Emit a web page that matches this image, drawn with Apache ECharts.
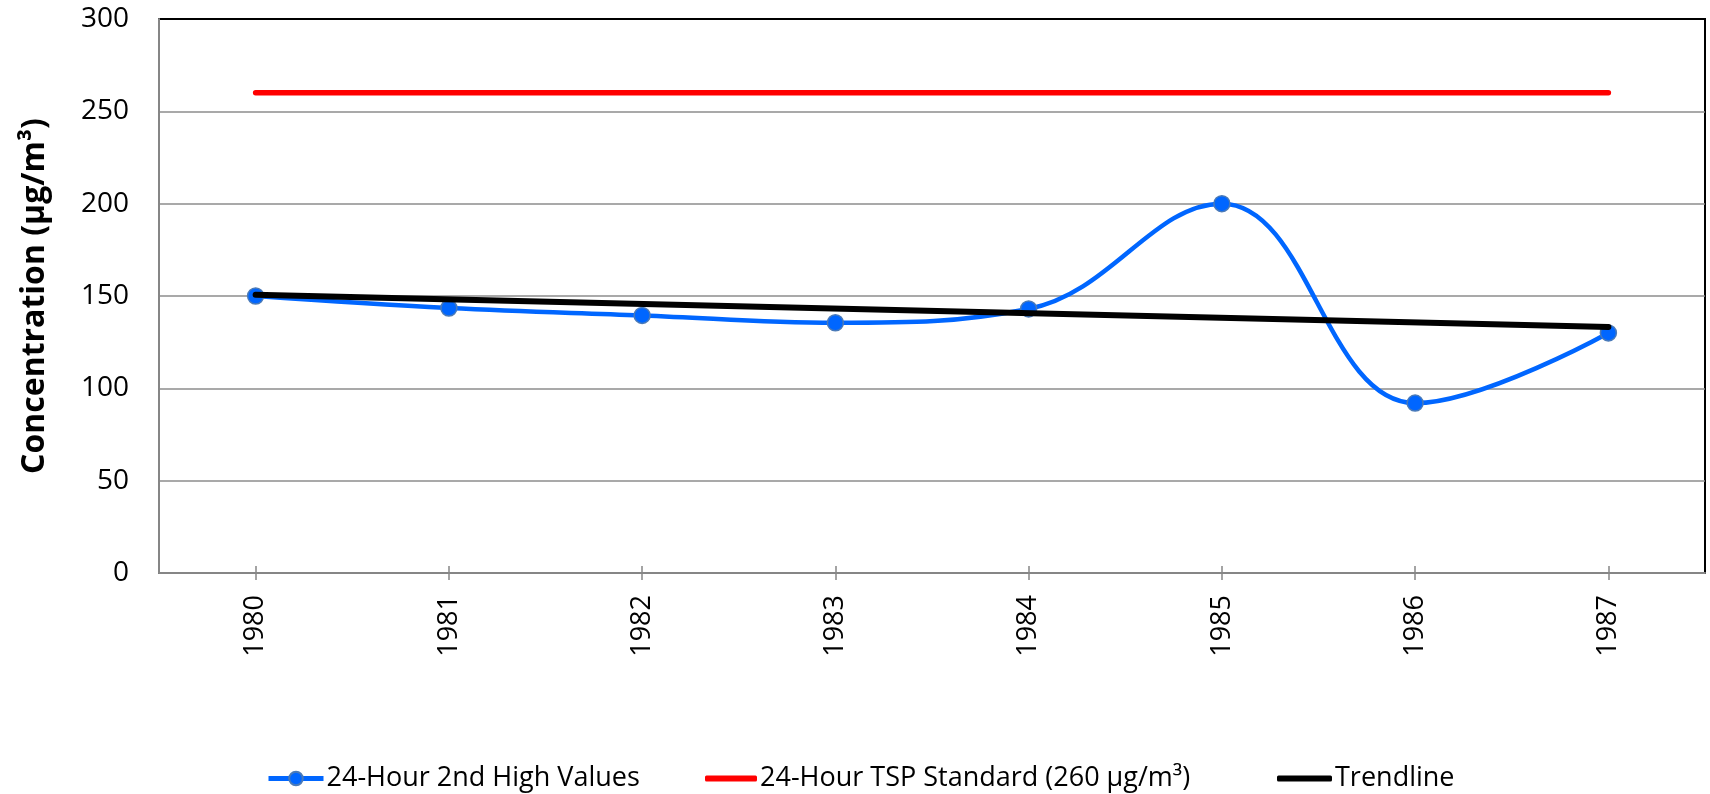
<!DOCTYPE html>
<html>
<head>
<meta charset="utf-8">
<script src="https://cdn.jsdelivr.net/npm/echarts@6/dist/echarts.min.js"></script>
<style>html,body{margin:0;padding:0;background:#fff;}#c{width:1710px;height:794px;}</style>
</head>
<body>
<div id="c"></div>
<script>
const years = ['1980','1981','1982','1983','1984','1985','1986','1987'];
const highValues = [150, 143.5, 139.5, 135.5, 143, 200, 92, 130];
const standardValue = 260;
const trendEnds = [150.7, 133.2];
const yTicks = [0, 50, 100, 150, 200, 250, 300];

const FONT = 'Open Sans';
const legendText = { fontFamily: FONT, fontSize: 27, color: '#000', padding: [0,0,0,-2] };
const chart = echarts.init(document.getElementById('c'));
chart.setOption({
  backgroundColor: '#fff',
  animation: false,
  textStyle: { fontFamily: FONT },
  grid: { left: 159, right: 5, top: 19, bottom: 221, show: true, borderColor: '#000', borderWidth: 2, containLabel: false },
  legend: [
    { data: ['24-Hour 2nd High Values'], left: 261, top: 760, itemWidth: 55, itemHeight: 17,
      lineStyle: { width: 5 }, textStyle: legendText },
    { data: [{ name: '24-Hour TSP Standard (260 µg/m³)', icon: 'roundRect' }], left: 700, top: 760, itemWidth: 52, itemHeight: 6,
      textStyle: legendText },
    { data: [{ name: 'Trendline', icon: 'roundRect' }], left: 1272, top: 760, itemWidth: 55, itemHeight: 6,
      textStyle: legendText }
  ],
  xAxis: [
    {
      type: 'category', data: years, boundaryGap: true,
      axisLine: { show: true, lineStyle: { color: '#868686', width: 2 } },
      axisTick: { show: true, alignWithLabel: true, length: 7, lineStyle: { color: '#868686', width: 1.5 } },
      axisLabel: { rotate: 90, margin: 22, fontFamily: FONT, fontSize: 27, color: '#000' },
      splitLine: { show: false }
    },
    {
      type: 'category', data: years, boundaryGap: true, position: 'bottom',
      axisLine: { show: false },
      axisTick: { show: true, inside: true, alignWithLabel: true, length: 7, lineStyle: { color: '#868686', width: 1.5 } },
      axisLabel: { show: false },
      splitLine: { show: false }
    }
  ],
  yAxis: {
    type: 'value', min: yTicks[0], max: yTicks[yTicks.length - 1], interval: 50,
    name: 'Concentration (µg/m³)', nameLocation: 'middle', nameGap: 108,
    nameTextStyle: { fontFamily: FONT, fontSize: 32, fontWeight: 'bold', color: '#000' },
    axisLine: { show: true, lineStyle: { color: '#868686', width: 2 } },
    axisTick: { show: false },
    axisLabel: { margin: 30, fontFamily: FONT, fontSize: 28, color: '#000' },
    splitLine: { show: true, showMaxLine: false, lineStyle: { color: '#8c8c8c', width: 1.5 } }
  },
  series: [
    {
      name: '24-Hour 2nd High Values', type: 'line', data: highValues, smooth: 0.4,
      symbol: 'circle', symbolSize: 16,
      lineStyle: { color: '#0066ff', width: 4.5 },
      itemStyle: { color: '#0066ff', borderColor: '#4a7ab8', borderWidth: 1.5 },
      z: 3
    },
    {
      name: '24-Hour TSP Standard (260 µg/m³)', type: 'line',
      data: [[years[0], standardValue], [years[years.length - 1], standardValue]],
      symbol: 'none', lineStyle: { color: '#ff0000', width: 5.5, cap: 'round' },
      itemStyle: { color: '#ff0000' }, z: 2
    },
    {
      name: 'Trendline', type: 'line',
      data: [[years[0], trendEnds[0]], [years[years.length - 1], trendEnds[1]]],
      symbol: 'none', lineStyle: { color: '#000', width: 6, cap: 'round' },
      itemStyle: { color: '#000' }, z: 4
    }
  ]
});
</script>
</body>
</html>
